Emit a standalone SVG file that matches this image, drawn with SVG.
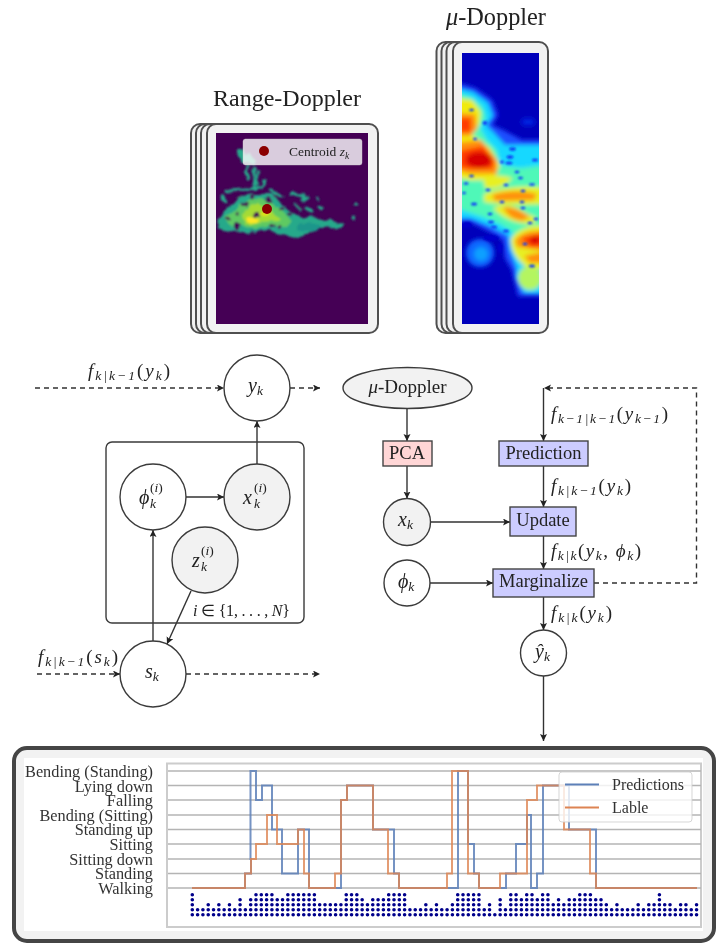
<svg xmlns="http://www.w3.org/2000/svg" width="726" height="949" viewBox="0 0 726 949">
<style>
text{font-family:"Liberation Serif",serif;fill:#222}
.t{font-size:18.5px;text-anchor:middle}
.m{font-size:19px;font-style:italic}
.n{font-size:20px;font-style:italic}
.r{font-style:normal}
.s{font-size:13.5px}
.c{stroke:#3a3a3a;stroke-width:1.4;fill:#fff}
.g{stroke:#3a3a3a;stroke-width:1.4;fill:#f2f2f2}
.frame{fill:#f2f2f2;stroke:#505050;stroke-width:2}
.a{fill:none;stroke:#333;stroke-width:1.4;marker-end:url(#arr)}
.d{fill:none;stroke:#333;stroke-width:1.4;stroke-dasharray:5 4;marker-end:url(#arr)}
.v{fill:#ccccff;stroke:#444;stroke-width:1.4}
.grid line{stroke:#b4b4b4;stroke-width:1.4}
.lab{font-size:16.3px;text-anchor:end;fill:#333}
.leg{font-size:16px;fill:#333}
.pb{fill:none;stroke:#5d80b8;stroke-width:2;stroke-opacity:.85}
.po{fill:none;stroke:#dd8452;stroke-width:2;stroke-opacity:.8}
</style>
<defs>
<marker id="arr" markerUnits="userSpaceOnUse" markerWidth="8" markerHeight="8" refX="7" refY="3.5" orient="auto"><path d="M7 3.5L0 0L1.6 3.5L0 7Z" fill="#222"/></marker>
<filter id="soft" filterUnits="userSpaceOnUse" x="0" y="0" width="726" height="949"><feGaussianBlur stdDeviation=".55"/></filter>
<filter id="rough" filterUnits="userSpaceOnUse" x="200" y="130" width="180" height="130"><feTurbulence type="fractalNoise" baseFrequency=".12" numOctaves="2" seed="4" result="n"/><feDisplacementMap in="SourceGraphic" in2="n" scale="6" xChannelSelector="R" yChannelSelector="G"/><feGaussianBlur stdDeviation="1"/></filter>
<filter id="b2" x="-20%" y="-20%" width="140%" height="140%"><feGaussianBlur stdDeviation="2.2"/></filter>
<filter id="b3" x="-30%" y="-30%" width="160%" height="160%"><feGaussianBlur stdDeviation=".9"/></filter>
<clipPath id="rdc"><rect x="216" y="133" width="152" height="191"/></clipPath>
<clipPath id="mdc"><rect x="462" y="53" width="77" height="271"/></clipPath>
</defs>
<g filter="url(#soft)">
<g id="range-doppler">
<text x="287" y="106" style="font-size:24px;text-anchor:middle">Range-Doppler</text>
<rect class="frame" x="191" y="124" width="170" height="209" rx="9"/>
<rect class="frame" x="196" y="124" width="172" height="209" rx="9"/>
<rect class="frame" x="201" y="124" width="174" height="209" rx="9"/>
<rect class="frame" x="207" y="124" width="171" height="209" rx="9"/>
<rect x="216" y="133" width="152" height="191" fill="#440154"/>
<g clip-path="url(#rdc)">
<g filter="url(#rough)">
<path fill="#26a98a" d="M217 229L219 218L226 209L232 206L238 199L252 194L272 194L284 206L297 216L318 218L344 224L342 228L318 229L298 238L285 236L268 230L245 234L235 229L228 232Z"/>
<g fill="none" stroke="#26a98a" stroke-width="3" stroke-linecap="round">
<path d="M248 165L247 180M254 167L254 186M258 172L257 184M265 180L263 187M230 190L262 188M226 191L229 192M222 196L225 202M290 193L305 197M302 199L308 198M318 198L319 199M319 207L322 209M355 205L356 205M353 218L354 219M270 191L282 196M305 207L312 212M296 205L300 210"/>
<path stroke-width="6" d="M240 152L244 160M248 156L252 161"/>
</g>
<path fill="#5ec962" d="M226 222L224 217L232 212L240 205L248 200L258 198L268 201L278 208L285 214L292 220L286 227L270 226L255 229L245 227L238 223L232 226Z"/>
<path fill="#a5db36" d="M242 216L248 208L257 203L266 207L276 215L282 219L274 221L262 222L251 226L244 223Z"/>
<ellipse cx="252" cy="220" rx="7" ry="3.500" fill="#fde725"/>
<ellipse cx="265" cy="214" rx="4" ry="2" fill="#dfe318"/>
<ellipse cx="308" cy="227" rx="12" ry="4" fill="#1f968b"/>
<g fill="#440154">
<ellipse cx="228" cy="219" rx="2.800" ry="2.200"/><ellipse cx="245" cy="204" rx="3.200" ry="2"/><ellipse cx="253" cy="197" rx="1.800" ry="2.800"/><ellipse cx="257" cy="215" rx="2.800" ry="2"/><ellipse cx="272" cy="226" rx="2.800" ry="2"/><ellipse cx="280" cy="227" rx="2.200" ry="1.800"/><ellipse cx="268" cy="200" rx="2.200" ry="2.800"/><ellipse cx="282" cy="209" rx="3" ry="2"/><ellipse cx="276" cy="197" rx="2" ry="1.500"/><ellipse cx="238" cy="226" rx="3" ry="3"/><ellipse cx="238" cy="197" rx="3" ry="1.500"/><ellipse cx="290" cy="214" rx="3" ry="1.500"/><ellipse cx="300" cy="207" rx="2" ry="1.500"/><ellipse cx="237" cy="213" rx="1.500" ry="2.500"/>
</g>
</g>
</g>
<circle cx="267" cy="209" r="5" fill="#8b0000"/>
<rect x="243" y="139" width="119" height="26" rx="2.500" fill="#fff" fill-opacity=".8" stroke="#ccc" stroke-opacity=".5" stroke-width=".8"/>
<circle cx="264" cy="151" r="5" fill="#8b0000"/>
<text x="289" y="156" style="font-size:13.500px">Centroid <tspan font-style="italic">z</tspan><tspan font-style="italic" font-size="9.500" dy="2.500">k</tspan></text>
</g>

<g id="mu-doppler">
<text x="496" y="25" style="font-size:24.300px;text-anchor:middle"><tspan font-style="italic">μ</tspan>-Doppler</text>
<rect class="frame" x="436.500" y="42" width="90" height="291" rx="9"/>
<rect class="frame" x="441.500" y="42" width="92" height="291" rx="9"/>
<rect class="frame" x="446.500" y="42" width="94" height="291" rx="9"/>
<rect class="frame" x="453" y="42" width="95" height="291" rx="9"/>
<rect x="462" y="53" width="77" height="271" fill="#0000bb"/>
<g clip-path="url(#mdc)">
<g filter="url(#b2)">
<path fill="#1a50ff" d="M455 82L475 88L492 100L498 115L492 125L503 130L522 140L545 140L545 296L518 296L512 270L505 258L503 240L490 232L470 222L455 222Z"/>
<ellipse cx="480" cy="253" rx="14" ry="14" fill="#0a68ff"/>
<ellipse cx="481" cy="254" rx="7" ry="7" fill="#10a0ff"/>
<ellipse cx="528" cy="122" rx="7" ry="4" fill="#0020e0"/>
<path fill="#15d8ff" d="M455 88L473 92L488 103L493 116L486 125L493 132L505 145L545 145L545 293L524 293L516 278L517 268L510 250L508 235L490 226L470 218L455 218Z"/>
<path fill="#50f8b8" d="M455 92L470 97L482 106L486 118L480 128L487 140L497 150L500 165L520 168L545 165L545 268L525 268L515 248L513 232L500 224L480 216L455 208Z"/>
<ellipse cx="530" cy="278" rx="12" ry="12" fill="#b4f560"/>
<path fill="#f0ea10" d="M455 98L472 100L481 112L479 125L472 135L490 148L500 165L494 180L470 180L455 177Z"/>
<path fill="#e8f020" d="M483 178Q495 173 513 178Q500 191 485 188ZM484 194Q510 184 545 188L545 204Q510 206 484 202ZM493 208Q510 200 527 214Q542 218 532 224Q508 224 493 208ZM511 238Q525 223 545 226L545 270L525 266Q510 254 511 238Z"/>
<path fill="#ff9010" d="M455 113L475 114L477 129L470 136L455 136ZM455 143L481 140L497 160L497 174L470 174L455 170ZM492 195Q515 188 537 194L534 200L495 201ZM503 207Q516 206 530 217L522 221Q508 219 503 207ZM515 240Q525 229 545 231L545 251L530 249L517 247ZM524 256Q535 253 545 252L545 263L530 263Z"/>
<path fill="#ff3a00" d="M459 118L471 118L471 132L459 132ZM459 151L483 146L494 162L492 169L470 169L459 167ZM521 238L545 233L545 247L530 247Z"/>
<ellipse cx="479" cy="160" rx="13" ry="8" fill="#d80000"/>
<ellipse cx="535" cy="240" rx="5" ry="4" fill="#d80000"/>
</g>
<g fill="#1040f5" filter="url(#b3)">
<ellipse cx="471.500" cy="110" rx="2.500" ry="1.200"/><ellipse cx="485" cy="123" rx="2.500" ry="2"/><ellipse cx="475" cy="139" rx="2" ry="1.200"/><ellipse cx="512.500" cy="149" rx="3.500" ry="1.800"/><ellipse cx="510" cy="157" rx="3.500" ry="1.800"/><ellipse cx="509" cy="163" rx="3.500" ry="1.500"/><ellipse cx="502" cy="162" rx="2" ry="1.500"/><ellipse cx="535" cy="160" rx="3" ry="1.500"/><ellipse cx="471.500" cy="176" rx="2.500" ry="1.200"/><ellipse cx="517" cy="172" rx="2.500" ry="1.200"/><ellipse cx="520.500" cy="178" rx="2.500" ry="1.200"/><ellipse cx="466" cy="183.500" rx="2.500" ry="1.200"/><ellipse cx="532" cy="184.500" rx="3" ry="1.200"/><ellipse cx="506" cy="185" rx="2.500" ry="1.200"/><ellipse cx="464" cy="193" rx="2" ry="1.200"/><ellipse cx="488" cy="190" rx="2.500" ry="1.200"/><ellipse cx="523" cy="191" rx="2.500" ry="1.200"/><ellipse cx="474" cy="204" rx="3" ry="1.500"/><ellipse cx="502" cy="202" rx="2.500" ry="1.200"/><ellipse cx="522" cy="202" rx="2.500" ry="1.200"/><ellipse cx="523" cy="208" rx="2.500" ry="1.200"/><ellipse cx="490" cy="214" rx="2.500" ry="1.200"/><ellipse cx="536" cy="219" rx="2.500" ry="1.200"/><ellipse cx="530" cy="223" rx="2.500" ry="1.200"/><ellipse cx="491" cy="222" rx="3" ry="1.500"/><ellipse cx="494" cy="227" rx="3" ry="1.500"/><ellipse cx="506" cy="231" rx="3" ry="1.500"/><ellipse cx="525" cy="244" rx="2.500" ry="1.200"/><ellipse cx="532" cy="266" rx="3" ry="1.500"/>
</g>
<g fill="#0000cc" filter="url(#b3)"><ellipse cx="467" cy="225" rx="5" ry="3"/><ellipse cx="491" cy="238" rx="8" ry="3"/><ellipse cx="500" cy="248" rx="2.500" ry="5"/></g>
</g>
</g>

<g id="connectors">
<path class="d" d="M35 388H224"/>
<path class="d" d="M290 388H320"/>
<path class="a" d="M257 464V421"/>
<path class="a" d="M186 497H224"/>
<path class="a" d="M153 641V530"/>
<path class="a" d="M191 591L167 644"/>
<path class="d" d="M37 674H120"/>
<path class="d" d="M186 674H320"/>
<path class="a" d="M407 408V441"/>
<path class="a" d="M407 466V498.500"/>
<path class="a" d="M430.500 522H510"/>
<path class="a" d="M430 583H493"/>
<path class="a" d="M543.500 388V441"/>
<path class="a" d="M543.500 466V507"/>
<path class="a" d="M543.500 536V569"/>
<path class="a" d="M543.500 597V630"/>
<path class="a" d="M543.500 676V741"/>
<path class="d" d="M594 583H696.500V388H544"/>
</g>

<g id="plate"><rect x="106" y="442" width="198" height="181" rx="6" fill="none" stroke="#3a3a3a" stroke-width="1.400"/>
<text x="193" y="616" style="font-size:16px;font-style:italic" textLength="97">i <tspan class="r">∈ {1, . . . , </tspan>N<tspan class="r">}</tspan></text></g>

<g id="labels">
<text class="m" x="88" y="377" textLength="82">f<tspan class="s" dy="3">k|k−1</tspan><tspan class="r" dy="-3">(</tspan>y<tspan class="s" dy="3">k</tspan><tspan class="r" dy="-3">)</tspan></text>
<text class="m" x="38" y="663" textLength="80">f<tspan class="s" dy="3">k|k−1</tspan><tspan class="r" dy="-3">(</tspan>s<tspan class="s" dy="3">k</tspan><tspan class="r" dy="-3">)</tspan></text>
<text class="m" x="551" y="420" textLength="117">f<tspan class="s" dy="3">k−1|k−1</tspan><tspan class="r" dy="-3">(</tspan>y<tspan class="s" dy="3">k−1</tspan><tspan class="r" dy="-3">)</tspan></text>
<text class="m" x="551" y="492" textLength="80">f<tspan class="s" dy="3">k|k−1</tspan><tspan class="r" dy="-3">(</tspan>y<tspan class="s" dy="3">k</tspan><tspan class="r" dy="-3">)</tspan></text>
<text class="m" x="551" y="557" textLength="90">f<tspan class="s" dy="3">k|k</tspan><tspan class="r" dy="-3">(</tspan>y<tspan class="s" dy="3">k</tspan><tspan class="r" dy="-3">, </tspan>ϕ<tspan class="s" dy="3">k</tspan><tspan class="r" dy="-3">)</tspan></text>
<text class="m" x="551" y="619" textLength="61">f<tspan class="s" dy="3">k|k</tspan><tspan class="r" dy="-3">(</tspan>y<tspan class="s" dy="3">k</tspan><tspan class="r" dy="-3">)</tspan></text>
</g>

<g id="node-y"><circle class="c" cx="257" cy="388" r="33"/><text class="n" x="248" y="392">y<tspan class="s" dy="3">k</tspan></text></g>
<g id="node-phi-i"><circle class="c" cx="153" cy="497" r="33"/><text class="n" x="139" y="504">ϕ<tspan class="s" x="150" dy="4">k</tspan><tspan class="s" x="150" dy="-16" font-style="normal">(<tspan font-style="italic">i</tspan>)</tspan></text></g>
<g id="node-x-i"><circle class="g" cx="257" cy="497" r="33"/><text class="n" x="243" y="504">x<tspan class="s" x="254" dy="4">k</tspan><tspan class="s" x="254" dy="-16" font-style="normal">(<tspan font-style="italic">i</tspan>)</tspan></text></g>
<g id="node-z-i"><circle class="g" cx="205" cy="560" r="33"/><text class="n" x="192" y="567">z<tspan class="s" x="201" dy="4">k</tspan><tspan class="s" x="201" dy="-16" font-style="normal">(<tspan font-style="italic">i</tspan>)</tspan></text></g>
<g id="node-s"><circle class="c" cx="153" cy="674" r="33"/><text class="n" x="145" y="678">s<tspan class="s" dy="3">k</tspan></text></g>

<g id="node-mu"><ellipse class="g" cx="407.500" cy="388" rx="64.500" ry="20.500"/><text class="t" x="407.500" y="393" style="font-size:19px"><tspan font-style="italic">μ</tspan>-Doppler</text></g>
<g id="node-pca"><rect x="383" y="441" width="49" height="25" fill="#ffd6d6" stroke="#444" stroke-width="1.400"/><text class="t" x="407" y="459">PCA</text></g>
<g id="node-xk"><circle class="g" cx="407" cy="522" r="23.500"/><text class="n" x="398" y="526">x<tspan class="s" dy="3">k</tspan></text></g>
<g id="node-phik"><circle class="c" cx="407" cy="583" r="23"/><text class="n" x="398" y="588">ϕ<tspan class="s" dy="3">k</tspan></text></g>
<g id="node-prediction"><rect class="v" x="499" y="441" width="89" height="25"/><text class="t" x="543.500" y="459">Prediction</text></g>
<g id="node-update"><rect class="v" x="510" y="507" width="66" height="29"/><text class="t" x="543" y="526">Update</text></g>
<g id="node-marginalize"><rect class="v" x="493" y="569" width="101" height="28"/><text class="t" x="543.500" y="587">Marginalize</text></g>
<g id="node-yhat"><circle class="c" cx="543.500" cy="653" r="23"/><text class="n" x="535" y="658">ŷ<tspan class="s" dy="3">k</tspan></text></g>

<g id="chart">
<rect x="14" y="748" width="700" height="193" rx="13" fill="#f2f2f2" stroke="#444" stroke-width="4"/>
<rect x="24" y="758" width="679" height="173" fill="#fff"/>
<rect x="167" y="763.500" width="534" height="163.500" fill="#fff" stroke="#ccc" stroke-width="2"/>
<g class="grid">
<line x1="168" x2="701" y1="771" y2="771"/><line x1="168" x2="701" y1="785.500" y2="785.500"/><line x1="168" x2="701" y1="800" y2="800"/><line x1="168" x2="701" y1="815" y2="815"/><line x1="168" x2="701" y1="829.500" y2="829.500"/><line x1="168" x2="701" y1="844" y2="844"/><line x1="168" x2="701" y1="859" y2="859"/><line x1="168" x2="701" y1="873.500" y2="873.500"/><line x1="168" x2="701" y1="888" y2="888"/>
</g>
<g>
<text class="lab" x="153" y="777">Bending (Standing)</text>
<text class="lab" x="153" y="792">Lying down</text>
<text class="lab" x="153" y="806">Falling</text>
<text class="lab" x="153" y="821">Bending (Sitting)</text>
<text class="lab" x="153" y="835">Standing up</text>
<text class="lab" x="153" y="850">Sitting</text>
<text class="lab" x="153" y="865">Sitting down</text>
<text class="lab" x="153" y="879">Standing</text>
<text class="lab" x="153" y="894">Walking</text>
</g>
<path class="pb" d="M192 888H245V873.500H251V859H250.500V771H256V800H262V785.500H272V829.500H282V873.500H298V829.500H309V888H341V800H347V785.500H373V829.500H394V873.500H399V888H458V771H468V844H474V873.500H479V888H506V873.500H516V844H527V815H531V888H537V873.500H543V785.500H569V829.500H596V888H697"/>
<path class="po" d="M192 888H245V873.500H251V859H256V844H267V815H277V844H298V829.500H304V873.500H309V888H335V873.500H341V800H347V785.500H373V829.500H388V873.500H399V888H447V873.500H452V771H468V873.500H479V888H500V873.500H527V800H537V785.500H564V829.500H590V873.500H596V888H697"/>
<path d="M192.300 914.700v-20.100m5.308 20.100v-5.100m5.308 5.100v-5.100m5.308 5.100v-10.100m5.308 10.100v-5.100m5.308 5.100v-10.100m5.308 10.100v-5.100m5.308 5.100v-10.100m5.308 10.100v-5.100m5.308 5.100v-15.100m5.308 15.100v-5.100m5.308 5.100v-15.100m5.308 15.100v-20.100m5.308 20.100v-20.100m5.308 20.100v-20.100m5.308 20.100v-20.100m5.308 20.100v-15.100m5.308 15.100v-15.100m5.308 15.100v-20.100m5.308 20.100v-20.100m5.308 20.100v-20.100m5.308 20.100v-20.100m5.308 20.100v-20.100m5.308 20.100v-20.100m5.308 20.100v-10.100m5.308 10.100v-10.100m5.308 10.100v-10.100m5.308 10.100v-10.100m5.308 10.100v-10.100m5.308 10.100v-20.100m5.308 20.100v-20.100m5.308 20.100v-20.100m5.308 20.100v-15.100m5.308 15.100v-10.100m5.308 10.100v-15.100m5.308 15.100v-15.100m5.308 15.100v-15.100m5.308 15.100v-20.100m5.308 20.100v-20.100m5.308 20.100v-20.100m5.308 20.100v-20.100m5.308 20.100v-5.100m5.308 5.100v-5.100m5.308 5.100v-5.100m5.308 5.100v-10.100m5.308 10.100v-5.100m5.308 5.100v-10.100m5.308 10.100v-5.100m5.308 5.100v-5.100m5.308 5.100v-10.100m5.308 10.100v-20.100m5.308 20.100v-20.100m5.308 20.100v-20.100m5.308 20.100v-20.100m5.308 20.100v-20.100m5.308 20.100v-5.100m5.308 5.100v-10.100m5.308 10.100v-.1m5.308 .1v-15.100m5.308 15.100v-5.100m5.308 5.100v-20.100m5.308 20.100v-20.100m5.308 20.100v-15.100m5.308 15.100v-20.100m5.308 20.100v-20.100m5.308 20.100v-15.100m5.308 15.100v-20.100m5.308 20.100v-20.100m5.308 20.100v-10.100m5.308 10.100v-15.100m5.308 15.100v-10.100m5.308 10.100v-15.100m5.308 15.100v-15.100m5.308 15.100v-20.100m5.308 20.100v-20.100m5.308 20.100v-20.100m5.308 20.100v-15.100m5.308 15.100v-15.100m5.308 15.100v-10.100m5.308 10.100v-5.100m5.308 5.100v-10.100m5.308 10.100v-5.100m5.308 5.100v-5.100m5.308 5.100v-5.100m5.308 5.100v-10.100m5.308 10.100v-5.100m5.308 5.100v-10.100m5.308 10.100v-10.100m5.308 10.100v-20.100m5.308 20.100v-10.100m5.308 10.100v-10.100m5.308 10.100v-5.100m5.308 5.100v-10.100m5.308 10.100v-10.100m5.308 10.100v-5.100m5.308 5.100v-10.100" fill="none" stroke="#00008b" stroke-width="3.600" stroke-linecap="round" stroke-dasharray="0 5"/>
<rect x="559" y="772" width="133" height="50" rx="3" fill="#fff" fill-opacity=".8" stroke="#ccc" stroke-opacity=".8" stroke-width="1"/>
<line x1="565" x2="599" y1="784.500" y2="784.500" stroke="#5d80b8" stroke-width="2"/>
<line x1="565" x2="599" y1="807.500" y2="807.500" stroke="#dd8452" stroke-width="2"/>
<text class="leg" x="612" y="790">Predictions</text>
<text class="leg" x="612" y="813">Lable</text>
</g>
</g>
</svg>
